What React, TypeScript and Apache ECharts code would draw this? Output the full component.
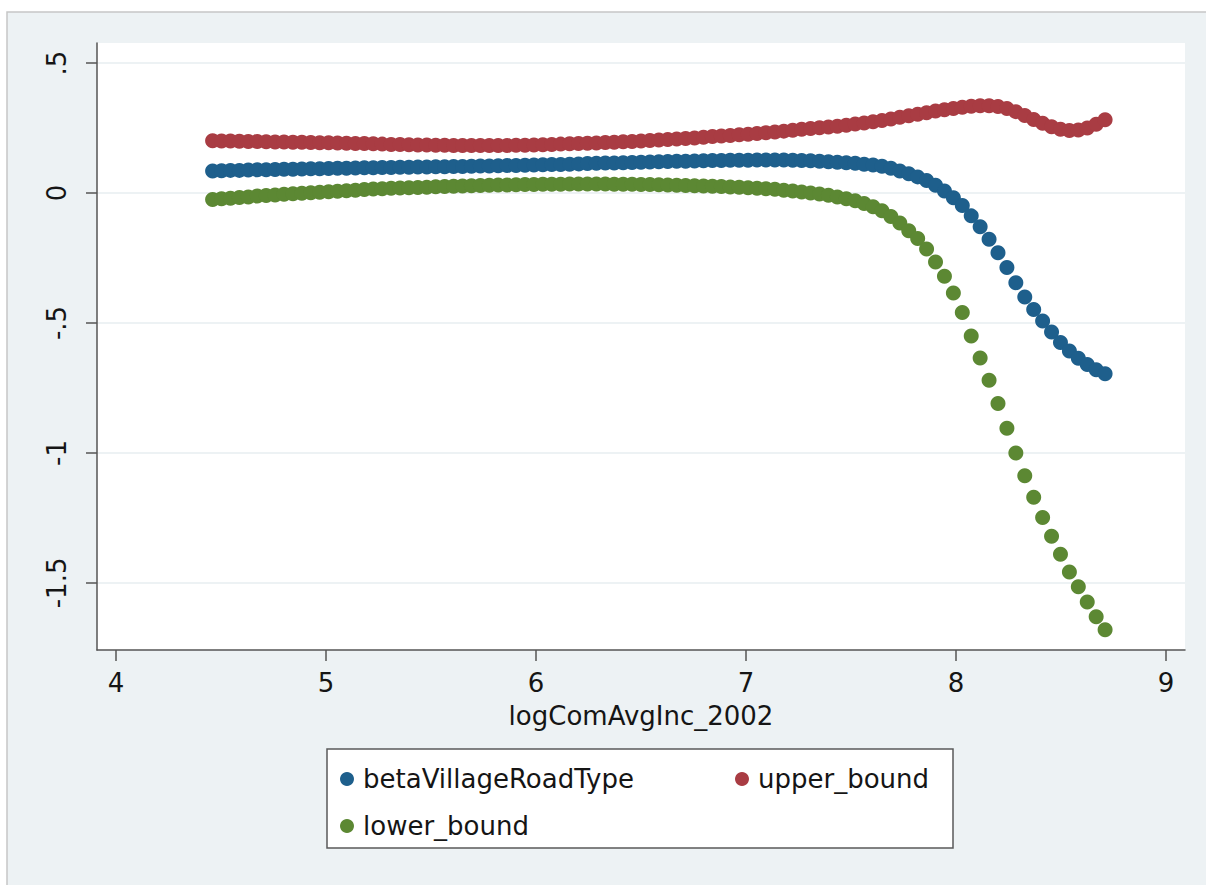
import React, { useEffect, useRef } from "react";
import * as echarts from "echarts";

const xValues = [
  4.46, 4.5025, 4.545, 4.5875, 4.63, 4.6725, 4.715, 4.7575, 4.8, 4.8425,
  4.885, 4.9275, 4.97, 5.0125, 5.055, 5.0975, 5.14, 5.1825, 5.225, 5.2675,
  5.31, 5.3525, 5.395, 5.4375, 5.48, 5.5225, 5.565, 5.6075, 5.65, 5.6925,
  5.735, 5.7775, 5.82, 5.8625, 5.905, 5.9475, 5.99, 6.0325, 6.075, 6.1175,
  6.16, 6.2025, 6.245, 6.2875, 6.33, 6.3725, 6.415, 6.4575, 6.5, 6.5425,
  6.585, 6.6275, 6.67, 6.7125, 6.755, 6.7975, 6.84, 6.8825, 6.925, 6.9675,
  7.01, 7.0525, 7.095, 7.1375, 7.18, 7.2225, 7.265, 7.3075, 7.35, 7.3925,
  7.435, 7.4775, 7.52, 7.5625, 7.605, 7.6475, 7.69, 7.7325, 7.775, 7.8175,
  7.86, 7.9025, 7.945, 7.9875, 8.03, 8.0725, 8.115, 8.1575, 8.2, 8.2425,
  8.285, 8.3275, 8.37, 8.4125, 8.455, 8.4975, 8.54, 8.5825, 8.625, 8.6675,
  8.71,
];

const betaValues = [
  0.085, 0.086, 0.087, 0.087, 0.088, 0.089, 0.089, 0.09, 0.091, 0.091,
  0.092, 0.093, 0.093, 0.094, 0.095, 0.095, 0.096, 0.097, 0.097, 0.098,
  0.098, 0.099, 0.099, 0.1, 0.1, 0.101, 0.101, 0.102, 0.102, 0.103,
  0.104, 0.104, 0.105, 0.106, 0.106, 0.107, 0.108, 0.109, 0.11, 0.11,
  0.111, 0.112, 0.113, 0.114, 0.115, 0.115, 0.116, 0.117, 0.118, 0.119,
  0.12, 0.121, 0.122, 0.122, 0.123, 0.124, 0.125, 0.125, 0.126, 0.126,
  0.126, 0.127, 0.127, 0.127, 0.127, 0.126, 0.125, 0.124, 0.122, 0.12,
  0.118, 0.116, 0.114, 0.111, 0.108, 0.103, 0.095, 0.085, 0.074, 0.062,
  0.048, 0.03, 0.008, -0.018, -0.048, -0.088, -0.13, -0.178, -0.23, -0.287,
  -0.345, -0.4, -0.448, -0.492, -0.535, -0.575, -0.608, -0.636, -0.66, -0.68,
  -0.695,
];

const upperValues = [
  0.201, 0.2, 0.2, 0.199, 0.198, 0.198, 0.197, 0.196, 0.196, 0.195,
  0.195, 0.194, 0.193, 0.193, 0.192, 0.191, 0.19, 0.19, 0.189, 0.188,
  0.187, 0.187, 0.186, 0.185, 0.185, 0.184, 0.184, 0.183, 0.183, 0.183,
  0.183, 0.183, 0.183, 0.183, 0.184, 0.184, 0.185, 0.186, 0.187, 0.188,
  0.189, 0.19, 0.191, 0.192, 0.194, 0.195, 0.197, 0.198, 0.2, 0.202,
  0.204, 0.206, 0.208, 0.21, 0.212, 0.214, 0.217, 0.219, 0.221, 0.224,
  0.226, 0.229, 0.232, 0.235, 0.238, 0.241, 0.245, 0.248, 0.251, 0.254,
  0.257, 0.261, 0.265, 0.269, 0.274, 0.279, 0.285, 0.291, 0.297, 0.303,
  0.309, 0.315, 0.32, 0.325, 0.33, 0.334, 0.336, 0.336, 0.333, 0.325,
  0.313, 0.298, 0.283, 0.268, 0.255, 0.245, 0.24, 0.242, 0.25, 0.264,
  0.282,
];

const lowerValues = [
  -0.025, -0.022, -0.02, -0.017, -0.015, -0.012, -0.01, -0.008, -0.005, -0.003,
  -0.001, 0.001, 0.003, 0.005, 0.007, 0.009, 0.011, 0.013, 0.015, 0.016,
  0.018, 0.019, 0.02, 0.021, 0.022, 0.024, 0.025, 0.026, 0.027, 0.028,
  0.029, 0.03, 0.031, 0.031, 0.032, 0.033, 0.033, 0.034, 0.034, 0.034,
  0.035, 0.035, 0.035, 0.035, 0.035, 0.034, 0.034, 0.034, 0.033, 0.033,
  0.032, 0.031, 0.03, 0.029, 0.028, 0.027, 0.026, 0.025, 0.023, 0.022,
  0.02, 0.018, 0.016, 0.014, 0.011, 0.008, 0.004, 0.0, -0.004, -0.009,
  -0.015, -0.022, -0.03, -0.04, -0.053, -0.068, -0.09, -0.115, -0.145, -0.175,
  -0.215, -0.265, -0.32, -0.385, -0.46, -0.55, -0.635, -0.72, -0.81, -0.905,
  -1.0, -1.088, -1.17, -1.248, -1.32, -1.39, -1.458, -1.515, -1.573, -1.63,
  -1.68,
];

const seriesNames = ["betaVillageRoadType", "upper_bound", "lower_bound"];
const seriesColors = ["#1e5f8c", "#a93c43", "#5c8833"];
const xTicks = [4, 5, 6, 7, 8, 9];
const yTicks = [-1.5, -1, -0.5, 0, 0.5];
const xTitle = "logComAvgInc_2002";

const FONT = "DejaVu Sans";
const TEXT_COLOR = "#151515";

export default function App() {
  const ref = useRef<HTMLDivElement>(null);

  useEffect(() => {
    if (!ref.current) return;
    const chart = echarts.init(ref.current, null, { renderer: "svg" });
    const allY = [betaValues, upperValues, lowerValues];
    const fmtY = (v: number) =>
      v === 0 ? "0" : String(v).replace(/^(-?)0\./, "$1.");

    chart.setOption({
      animation: false,
      backgroundColor: "#ffffff",
      textStyle: { fontFamily: FONT },
      graphic: [
        {
          type: "rect",
          z: -10,
          shape: { x: 7, y: 12, width: 1210, height: 885 },
          style: { fill: "#edf2f4", stroke: "#c6c6c6", lineWidth: 1.5 },
        },
        {
          type: "rect",
          z: -5,
          shape: { x: 327, y: 749, width: 626, height: 99 },
          style: { fill: "#ffffff", stroke: "#5a5a5a", lineWidth: 1.5 },
        },
      ],
      grid: {
        left: 97,
        top: 43,
        width: 1088,
        height: 607,
        show: true,
        backgroundColor: "#ffffff",
        borderWidth: 0,
        containLabel: false,
      },
      legend: {
        left: 340,
        top: 764,
        width: 610,
        padding: 0,
        itemGap: 17,
        itemWidth: 22,
        itemHeight: 14,
        icon: "circle",
        textStyle: {
          fontFamily: FONT,
          fontSize: 26,
          color: TEXT_COLOR,
          lineHeight: 30,
        },
        data: [
          { name: seriesNames[0], textStyle: { width: 355 } },
          { name: seriesNames[1] },
          { name: seriesNames[2] },
        ],
      },
      xAxis: {
        type: "value",
        min: 3.9095,
        max: 9.0905,
        name: xTitle,
        nameLocation: "middle",
        nameGap: 53,
        nameTextStyle: { fontFamily: FONT, fontSize: 26, color: TEXT_COLOR },
        axisLine: {
          show: true,
          onZero: false,
          lineStyle: { color: "#555555", width: 1.5 },
        },
        axisTick: {
          show: true,
          length: 11,
          customValues: xTicks,
          lineStyle: { color: "#555555", width: 1.5 },
        },
        axisLabel: {
          customValues: xTicks,
          margin: 20,
          fontFamily: FONT,
          fontSize: 26,
          color: TEXT_COLOR,
        },
        splitLine: { show: false },
      },
      yAxis: {
        type: "value",
        min: -1.758,
        max: 0.577,
        axisLine: {
          show: true,
          onZero: false,
          lineStyle: { color: "#555555", width: 1.5 },
        },
        axisTick: {
          show: true,
          length: 11,
          customValues: yTicks,
          lineStyle: { color: "#555555", width: 1.5 },
        },
        axisLabel: {
          customValues: yTicks,
          rotate: 90,
          margin: 27,
          fontFamily: FONT,
          fontSize: 26,
          color: TEXT_COLOR,
          formatter: fmtY,
        },
        splitLine: {
          show: true,
          lineStyle: { color: "#edf2f4", width: 2 },
        },
      },
      series: seriesNames.map((name, k) => ({
        name,
        type: "scatter",
        symbol: "circle",
        symbolSize: 15,
        itemStyle: { color: seriesColors[k], opacity: 1 },
        data: xValues.map((x, i) => [x, allY[k][i]]),
      })),
    });

    return () => chart.dispose();
  }, []);

  return (
    <div
      ref={ref}
      style={{ position: "fixed", left: 0, top: 0, width: 1206, height: 885 }}
    />
  );
}
